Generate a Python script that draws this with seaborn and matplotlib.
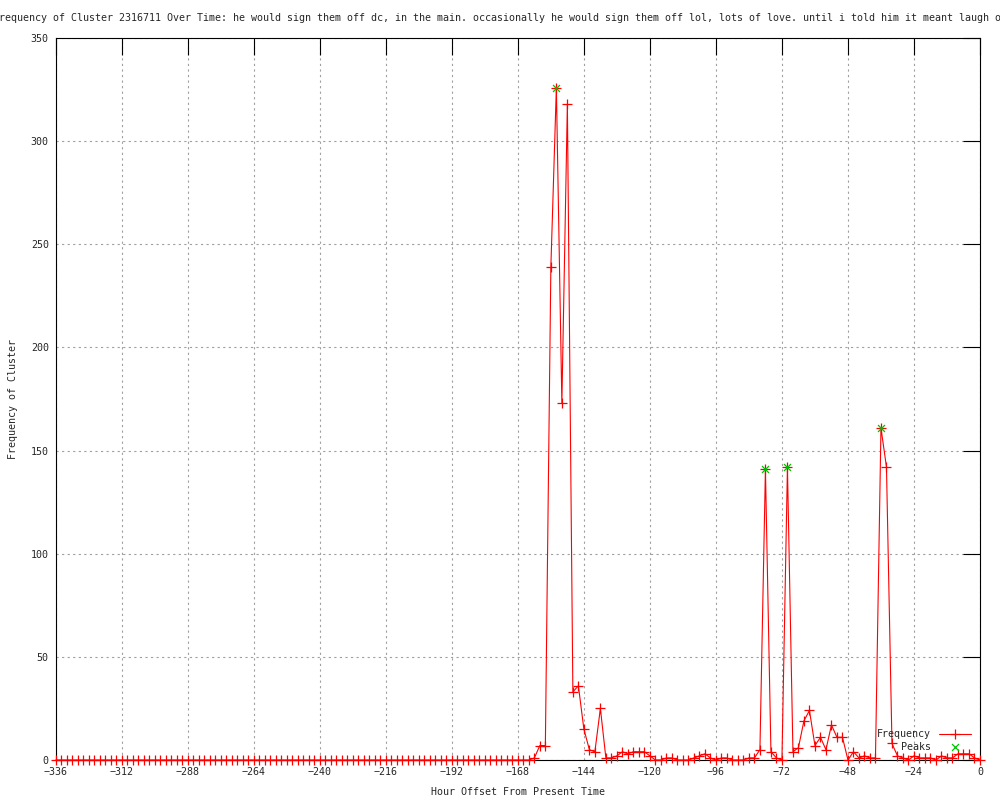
import pandas as pd
import seaborn as sns
import matplotlib.pyplot as plt

# hour offsets, one sample every 2 hours
hours = list(range(-336, 1, 2))

# cluster frequency (-336 .. 0)
freq = [
    # -336 .. -290
    0, 0, 0, 0, 0, 0, 0, 0, 0, 0, 0, 0, 0, 0, 0, 0, 0, 0, 0, 0, 0, 0, 0, 0,
    # -288 .. -242
    0, 0, 0, 0, 0, 0, 0, 0, 0, 0, 0, 0, 0, 0, 0, 0, 0, 0, 0, 0, 0, 0, 0, 0,
    # -240 .. -194
    0, 0, 0, 0, 0, 0, 0, 0, 0, 0, 0, 0, 0, 0, 0, 0, 0, 0, 0, 0, 0, 0, 0, 0,
    # -192 .. -146
    0, 0, 0, 0, 0, 0, 0, 0, 0, 0, 0, 0, 0, 0, 0, 1, 7, 7, 239, 326, 173, 318, 33, 36,
    # -144 .. -98
    15, 5, 4, 25, 1, 1, 2, 4, 3, 4, 4, 4, 2, 0, 0, 1, 1, 0, 0, 0, 1, 2, 3, 1,
    # -96 .. -50
    0, 1, 1, 0, 0, 0, 1, 1, 5, 141, 4, 1, 0, 142, 4, 6, 19, 24, 7, 11, 5, 17, 11, 11,
    # -48 .. 0
    0, 4, 1, 2, 1, 1, 161, 142, 8, 2, 1, 0, 2, 1, 1, 1, 0, 2, 1, 1, 3, 3, 3, 1, 0,
]

peak_hours = [-154, -78, -70, -36]

x_ticks = list(range(-336, 1, 24))
y_ticks = list(range(0, 351, 50))

title = ("Frequency of Cluster 2316711 Over Time: he would sign them off dc, in the main. "
         "occasionally he would sign them off lol, lots of love. until i told him it meant laugh out loud")

df = pd.DataFrame({"hour": hours, "freq": freq})
peaks = df[df["hour"].isin(peak_hours)]

sns.set_style("white")
plt.rcParams["font.family"] = ["DejaVu Sans Mono"]
fs = 7.18

fig = plt.figure(figsize=(10, 8), dpi=100)
ax = fig.add_axes([0.0557, 0.05, 0.9243, 0.9025])

sns.lineplot(data=df, x="hour", y="freq", ax=ax, color="red", lw=0.8,
             marker="+", markersize=6.5, markeredgewidth=0.9, markeredgecolor="red",
             label="Frequency", clip_on=False, zorder=3)
sns.scatterplot(data=peaks, x="hour", y="freq", ax=ax, color="#00c000", marker="x",
                s=25, linewidth=0.9, label="Peaks", clip_on=False, zorder=4)

ax.set_xlim(-336, 0)
ax.set_ylim(0, 350)
ax.set_xticks(x_ticks)
ax.set_yticks(y_ticks)
ax.tick_params(direction="in", length=12, width=0.8, color="black", labelsize=fs,
               top=True, right=True, pad=5)
ax.grid(True, color="#a0a0a0", linestyle=(0, (2, 3)), linewidth=0.8)
for s in ax.spines.values():
    s.set_color("black")
    s.set_linewidth(0.8)

ax.set_xlabel("Hour Offset From Present Time", fontsize=fs, labelpad=7)
ax.set_ylabel("Frequency of Cluster", fontsize=fs, labelpad=9)
# long title runs off both edges of the canvas, same as the original
ax.set_title(title, fontsize=fs, pad=12)

leg = ax.legend(loc="lower right", bbox_to_anchor=(0.99, 0.011), frameon=False,
                fontsize=fs, markerfirst=False, alignment="right", borderpad=0,
                borderaxespad=0, handlelength=3.2, handletextpad=0.8, labelspacing=0.3)

fig.savefig("out.png", dpi=100)
